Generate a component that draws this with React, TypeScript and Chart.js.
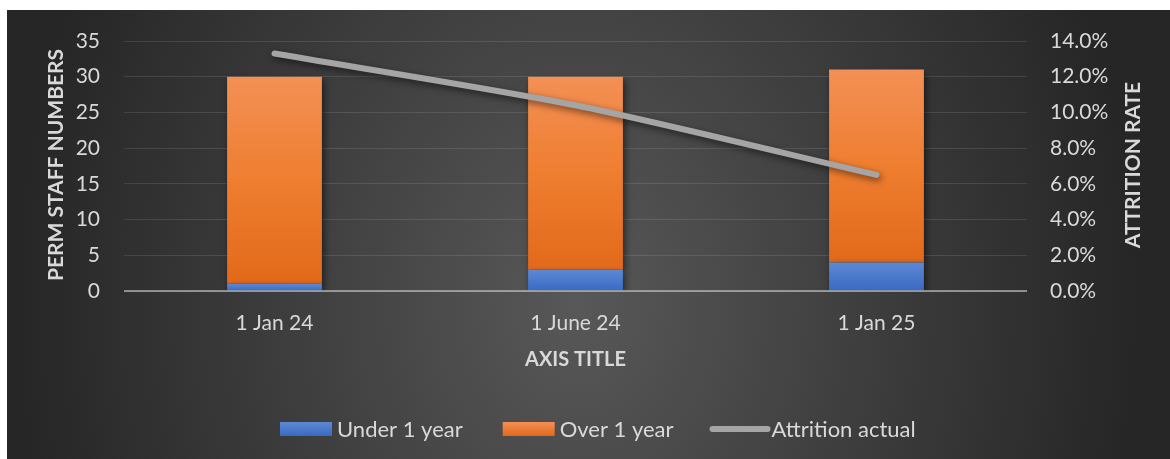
import { useEffect, useRef } from "react";
import { Chart, registerables } from "chart.js";

Chart.register(...registerables);

const categories = ["1 Jan 24", "1 June 24", "1 Jan 25"];
const seriesNames = ["Under 1 year", "Over 1 year", "Attrition actual"];
const under1Year = [1, 3, 4];
const over1Year = [29, 27, 27];
const attritionPct = [13.3, 10.4, 6.5];
const staffAxis = { min: 0, max: 35, step: 5 };
const rateAxis = { min: 0, max: 14, step: 2 };
const axisTitles = { left: "PERM STAFF NUMBERS", right: "ATTRITION RATE", bottom: "AXIS TITLE" };

const FONT = "Lato, 'Liberation Sans', sans-serif";
const TEXT = "#d9d9d9";
const BLUE = ["#5d89d3", "#3a69c2"];
const ORANGE = ["#f39055", "#ef7e30", "#e2691a"];
const GREY_LINE = "#a5a5a5";

function barFill(chart: any, dataIndex: number | undefined, which: "under" | "over") {
  const y = chart.scales && chart.scales.y;
  const fallback = which === "under" ? BLUE[1] : ORANGE[1];
  if (!y || dataIndex === undefined) return fallback;
  const base = which === "under" ? 0 : under1Year[dataIndex];
  const top = which === "under" ? under1Year[dataIndex] : under1Year[dataIndex] + over1Year[dataIndex];
  const y0 = y.getPixelForValue(base);
  const y1 = y.getPixelForValue(top);
  if (!isFinite(y0) || !isFinite(y1) || y0 === y1) return fallback;
  const g = chart.ctx.createLinearGradient(0, y1, 0, y0);
  if (which === "under") {
    g.addColorStop(0, BLUE[0]);
    g.addColorStop(1, BLUE[1]);
  } else {
    g.addColorStop(0, ORANGE[0]);
    g.addColorStop(0.5, ORANGE[1]);
    g.addColorStop(1, ORANGE[2]);
  }
  return g;
}

const decorPlugin = {
  id: "decor",
  beforeDatasetDraw(chart: any) {
    const ctx = chart.ctx;
    ctx.save();
    ctx.shadowColor = "rgba(0,0,0,0.55)";
    ctx.shadowBlur = 7;
    ctx.shadowOffsetX = 2;
    ctx.shadowOffsetY = 3;
  },
  afterDatasetDraw(chart: any) {
    chart.ctx.restore();
  },
  afterDatasetsDraw(chart: any) {
    const ctx = chart.ctx;
    const { left, right } = chart.chartArea;
    const y0 = chart.scales.y.getPixelForValue(0);
    ctx.save();
    ctx.strokeStyle = "rgba(200,200,200,0.6)";
    ctx.lineWidth = 2;
    ctx.beginPath();
    ctx.moveTo(left, y0);
    ctx.lineTo(right, y0);
    ctx.stroke();
    ctx.restore();
  },
  afterDraw(chart: any) {
    const ctx = chart.ctx;
    const area = chart.chartArea;
    const midY = (area.top + area.bottom) / 2 - 1;
    ctx.save();
    ctx.fillStyle = TEXT;
    ctx.font = `bold 21px ${FONT}`;
    ctx.textAlign = "center";
    ctx.textBaseline = "middle";
    // left title
    ctx.save();
    ctx.translate(49, midY);
    ctx.rotate(-Math.PI / 2);
    ctx.fillText(axisTitles.left, 0, 0);
    ctx.restore();
    // right title
    ctx.save();
    ctx.translate(1126, midY);
    ctx.rotate(-Math.PI / 2);
    ctx.fillText(axisTitles.right, 0, 0);
    ctx.restore();
    // bottom title
    ctx.font = `bold 20px ${FONT}`;
    ctx.fillText(axisTitles.bottom, (area.left + area.right) / 2, 350);

    // legend
    ctx.font = `22px ${FONT}`;
    ctx.textAlign = "left";
    const ly = 419;
    let x = 273;
    // item 1
    let g = ctx.createLinearGradient(0, ly - 7, 0, ly + 7);
    g.addColorStop(0, BLUE[0]);
    g.addColorStop(1, BLUE[1]);
    ctx.fillStyle = g;
    ctx.fillRect(x, ly - 7, 52, 14);
    x += 57;
    ctx.fillStyle = TEXT;
    ctx.fillText(seriesNames[0], x, ly + 1);
    x += ctx.measureText(seriesNames[0]).width + 40;
    // item 2
    g = ctx.createLinearGradient(0, ly - 7, 0, ly + 7);
    g.addColorStop(0, ORANGE[0]);
    g.addColorStop(1, ORANGE[2]);
    ctx.fillStyle = g;
    ctx.fillRect(x, ly - 7, 52, 14);
    x += 57;
    ctx.fillStyle = TEXT;
    ctx.fillText(seriesNames[1], x, ly + 1);
    x += ctx.measureText(seriesNames[1]).width + 36;
    // item 3
    ctx.strokeStyle = GREY_LINE;
    ctx.lineWidth = 6;
    ctx.lineCap = "round";
    ctx.beginPath();
    ctx.moveTo(x + 3, ly);
    ctx.lineTo(x + 58, ly);
    ctx.stroke();
    x += 62;
    ctx.fillStyle = TEXT;
    ctx.fillText(seriesNames[2], x, ly + 1);
    ctx.restore();
  },
};

export default function App() {
  const canvasRef = useRef<HTMLCanvasElement | null>(null);

  useEffect(() => {
    const canvas = canvasRef.current;
    if (!canvas) return;
    const tickFont = { family: FONT, size: 21 };
    const chart = new Chart(canvas, {
      type: "bar",
      data: {
        labels: categories,
        datasets: [
          {
            type: "bar",
            label: seriesNames[0],
            data: under1Year,
            backgroundColor: (c: any) => barFill(c.chart, c.dataIndex, "under"),
            borderWidth: 0,
            categoryPercentage: 1,
            barPercentage: 0.315,
            yAxisID: "y",
            order: 1,
          },
          {
            type: "bar",
            label: seriesNames[1],
            data: over1Year,
            backgroundColor: (c: any) => barFill(c.chart, c.dataIndex, "over"),
            borderWidth: 0,
            categoryPercentage: 1,
            barPercentage: 0.315,
            yAxisID: "y",
            order: 1,
          },
          {
            type: "line",
            label: seriesNames[2],
            data: attritionPct,
            borderColor: GREY_LINE,
            borderWidth: 6,
            borderCapStyle: "round",
            borderJoinStyle: "round",
            pointRadius: 0,
            tension: 0.25,
            fill: false,
            yAxisID: "y2",
            order: 0,
          },
        ],
      } as any,
      options: {
        responsive: false,
        animation: false,
        layout: { padding: { top: 31, left: 0, right: 0, bottom: 0 } },
        plugins: {
          legend: { display: false },
          tooltip: { enabled: false },
          title: { display: false },
        },
        scales: {
          x: {
            stacked: true,
            grid: { display: false, drawTicks: false },
            border: { display: false },
            ticks: { color: TEXT, font: tickFont, padding: 20, maxRotation: 0 },
            afterFit: (s: any) => {
              s.height = 168;
            },
          },
          y: {
            stacked: true,
            min: staffAxis.min,
            max: staffAxis.max,
            ticks: { stepSize: staffAxis.step, color: TEXT, font: tickFont, padding: 24 },
            grid: { color: "rgba(255,255,255,0.11)", lineWidth: 1, drawTicks: false },
            border: { display: false },
            afterFit: (s: any) => {
              s.width = 117;
              s.paddingTop = 12;
              s.paddingBottom = 12;
            },
          },
          y2: {
            position: "right",
            min: rateAxis.min,
            max: rateAxis.max,
            ticks: {
              stepSize: rateAxis.step,
              color: TEXT,
              font: tickFont,
              padding: 23,
              callback: (v: any) => Number(v).toFixed(1) + "%",
            },
            grid: { display: false, drawTicks: false },
            border: { display: false },
            afterFit: (s: any) => {
              s.width = 143;
              s.paddingTop = 12;
              s.paddingBottom = 12;
            },
          },
        },
      } as any,
      plugins: [decorPlugin],
    });
    return () => chart.destroy();
  }, []);

  return (
    <div
      style={{
        position: "absolute",
        left: 7,
        top: 10,
        width: 1163,
        height: 449,
        background:
          "radial-gradient(ellipse 560px 700px at 49% 65%, #585858 0%, #3c3c3c 55%, #262626 100%)",
      }}
    >
      <canvas ref={canvasRef} width={1163} height={449} style={{ display: "block" }} />
    </div>
  );
}
